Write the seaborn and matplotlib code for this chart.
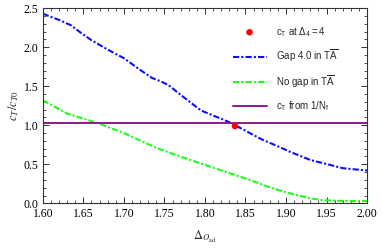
import matplotlib
matplotlib.use("Agg")
import matplotlib.pyplot as plt
import seaborn as sns
import pandas as pd
from matplotlib.ticker import MultipleLocator

# Data
gap_x = [1.60, 1.62, 1.635, 1.645, 1.66, 1.67, 1.68, 1.70, 1.72, 1.735, 1.745, 1.755,
         1.77, 1.795, 1.83, 1.85, 1.87, 1.89, 1.905, 1.93, 1.955, 1.97, 2.00]
gap_y = [2.43, 2.35, 2.28, 2.20, 2.09, 2.03, 1.97, 1.86, 1.71, 1.605, 1.565, 1.515,
         1.39, 1.19, 1.04, 0.93, 0.82, 0.73, 0.66, 0.555, 0.49, 0.45, 0.42]
nogap_x = [1.60, 1.63, 1.667, 1.70, 1.74, 1.775, 1.815, 1.855, 1.88, 1.90, 1.93, 1.945, 1.97, 2.00]
nogap_y = [1.32, 1.15, 1.03, 0.90, 0.71, 0.58, 0.44, 0.30, 0.205, 0.14, 0.064, 0.04, 0.03, 0.03]
point_x = [1.837]
point_y = [0.99]
nf_x = [1.60, 2.00]
nf_y = [1.035, 1.035]

labels = [r"$\mathrm{c_T\ at\ \Delta_4{=}4}$",
          r"$\mathrm{Gap\ 4.0\ in\ T\overline{A}}$",
          r"$\mathrm{No\ gap\ in\ T\overline{A}}$",
          r"$\mathrm{c_T\ from\ 1/N_f}$"]

sns.set_style("ticks")
plt.rcParams["mathtext.fontset"] = "custom"
plt.rcParams["mathtext.rm"] = "Liberation Sans"
plt.rcParams["mathtext.it"] = "Liberation Sans:italic"

fig = plt.figure(figsize=(3.82, 2.49), dpi=100)
ax = fig.add_axes([0.112, 0.1835, 0.849, 0.7835])

sns.lineplot(x=gap_x, y=gap_y, ax=ax, color=(0.05, 0.05, 1.0), lw=1.5,
             linestyle=(0, (3, 1, 1, 1)), label=labels[1], sort=False)
sns.lineplot(x=nogap_x, y=nogap_y, ax=ax, color=(0.1, 1.0, 0.1), lw=1.5,
             linestyle=(0, (3, 1, 1, 1)), label=labels[2], sort=False)
sns.lineplot(x=nf_x, y=nf_y, ax=ax, color=(0.55, 0.1, 0.55), lw=1.4,
             label=labels[3], sort=False)
sns.scatterplot(x=point_x, y=point_y, ax=ax, color="red", s=22, edgecolor="none",
                label=labels[0], zorder=5)

ax.set_xlim(1.60, 2.00)
ax.set_ylim(0.0, 2.5)
ax.xaxis.set_major_locator(MultipleLocator(0.05))
ax.xaxis.set_minor_locator(MultipleLocator(0.01))
ax.yaxis.set_major_locator(MultipleLocator(0.5))
ax.yaxis.set_minor_locator(MultipleLocator(0.1))
ax.set_xticklabels([f"{v:.2f}" for v in ax.get_xticks()])
ax.set_yticklabels([f"{v:.1f}" for v in ax.get_yticks()])
ax.tick_params(which="both", direction="in", top=True, right=True, colors="#333333",
               labelcolor="black")
ax.tick_params(which="major", length=4, width=0.7, labelsize=8.5)
ax.tick_params(axis="x", which="major", pad=3.5)
ax.tick_params(axis="y", which="major", pad=3)
ax.tick_params(which="minor", length=2, width=0.6)
for lab in ax.get_xticklabels() + ax.get_yticklabels():
    lab.set_family("Liberation Serif")
for s in ax.spines.values():
    s.set_linewidth(0.8)
    s.set_color("#333333")

ax.set_xlabel(r"$\Delta_{O_{\mathrm{ad}}}$", fontsize=9, math_fontfamily="stix", labelpad=6)
ax.set_ylabel(r"$c_T/c_{T0}$", fontsize=9, math_fontfamily="stix", labelpad=2)

handles, labs = ax.get_legend_handles_labels()
order = [labs.index(l) for l in labels]
leg = ax.legend([handles[i] for i in order], [labs[i] for i in order],
                loc="upper left", bbox_to_anchor=(0.585, 0.915), frameon=False,
                fontsize=7, handlelength=3.5, handletextpad=1.0, labelspacing=0.95,
                borderpad=0, borderaxespad=0)

fig.savefig("out.png", dpi=100)
